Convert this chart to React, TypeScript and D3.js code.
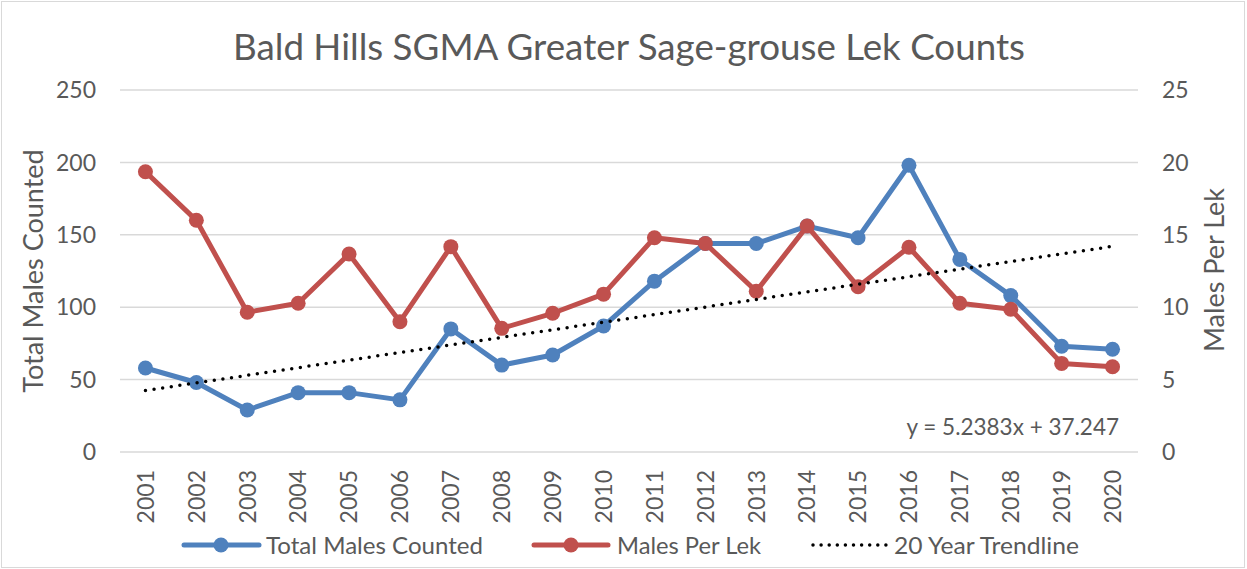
import * as d3 from "d3"

const years = ["2001", "2002", "2003", "2004", "2005", "2006", "2007", "2008", "2009", "2010",
    "2011", "2012", "2013", "2014", "2015", "2016", "2017", "2018", "2019", "2020"]
const totalMales = [58, 48, 29, 41, 41, 36, 85, 60, 67, 87, 118, 144, 144, 156, 148, 198, 133, 108, 73, 71]
const malesPerLek = [19.35, 16.0, 9.65, 10.27, 13.67, 9.0, 14.18, 8.54, 9.58, 10.9, 14.8, 14.4, 11.1, 15.6, 11.42, 14.14, 10.27, 9.86, 6.12, 5.89]
const leftTicks = [0, 50, 100, 150, 200, 250]
const rightTicks = [0, 5, 10, 15, 20, 25]
const trendSlope = 5.2383
const trendIntercept = 37.247

const blue = "#4F81BD"
const red = "#C0504D"
const textColor = "#595959"
const font = "Lato, 'Noto Sans', sans-serif"

export default function App() {
    const width = 1247
    const height = 569
    const marginLeft = 120
    const marginRight = 109
    const marginTop = 90
    const plotBottom = 452

    const xScale = d3.scaleBand(years, [marginLeft, width - marginRight])
    const xc = (y: string) => (xScale(y) ?? 0) + xScale.bandwidth() / 2
    const yLeft = d3.scaleLinear([0, 250], [plotBottom, marginTop])
    const yRight = d3.scaleLinear([0, 25], [plotBottom, marginTop])

    const totalLine = d3.line<number>()
        .x((_, i) => xc(years[i]))
        .y(d => yLeft(d))
    const lekLine = d3.line<number>()
        .x((_, i) => xc(years[i]))
        .y(d => yRight(d))

    const trendStart = trendSlope * 1 + trendIntercept
    const trendEnd = trendSlope * years.length + trendIntercept

    return (
        <svg width={width} height={height} style={{ position: "absolute", top: 0, left: 0 }} fontFamily={font}>
            <rect x={1.5} y={1.5} width={width - 4} height={height - 3} fill="white" stroke="#d9d9d9" />
            <text x={629} y={60} textAnchor="middle" fontSize={37} fill={textColor}
                textLength={792} lengthAdjust="spacingAndGlyphs">
                Bald Hills SGMA Greater Sage-grouse Lek Counts
            </text>

            {leftTicks.map(t => (
                <line key={t} x1={marginLeft} x2={width - marginRight} y1={yLeft(t)} y2={yLeft(t)}
                    stroke="#d9d9d9" strokeWidth={1.5} />
            ))}
            {leftTicks.map(t => (
                <text key={t} x={96} y={yLeft(t)} dy="0.36em" textAnchor="end" fontSize={23} fill={textColor}>{t}</text>
            ))}
            {rightTicks.map(t => (
                <text key={t} x={1162} y={yRight(t)} dy="0.36em" textAnchor="start" fontSize={23} fill={textColor}>{t}</text>
            ))}
            <text transform={`translate(43,271) rotate(-90)`} textAnchor="middle" fontSize={27} fill={textColor}>
                Total Males Counted
            </text>
            <text transform={`translate(1224,270) rotate(-90)`} textAnchor="middle" fontSize={27} fill={textColor}>
                Males Per Lek
            </text>

            {years.map(y => (
                <text key={y} transform={`translate(${xc(y)},470) rotate(-90)`} dy="0.36em" textAnchor="end"
                    fontSize={23} fill={textColor}>{y}</text>
            ))}

            <path d={totalLine(totalMales) ?? ""} fill="none" stroke={blue} strokeWidth={5} strokeLinejoin="round" strokeLinecap="round" />
            {totalMales.map((v, i) => (
                <circle key={i} cx={xc(years[i])} cy={yLeft(v)} r={7.5} fill={blue} />
            ))}
            <path d={lekLine(malesPerLek) ?? ""} fill="none" stroke={red} strokeWidth={5} strokeLinejoin="round" strokeLinecap="round" />
            {malesPerLek.map((v, i) => (
                <circle key={i} cx={xc(years[i])} cy={yRight(v)} r={7.5} fill={red} />
            ))}

            <line x1={xc(years[0])} x2={xc(years[years.length - 1])} y1={yLeft(trendStart)} y2={yLeft(trendEnd)}
                stroke="black" strokeWidth={3.5} strokeDasharray="0 8.7" strokeLinecap="round" />
            <text x={1119} y={435} textAnchor="end" fontSize={22.5} fill={textColor}>y = 5.2383x + 37.247</text>

            <g fontSize={24} fill={textColor}>
                <line x1={184} x2={259} y1={545} y2={545} stroke={blue} strokeWidth={5} strokeLinecap="round" />
                <circle cx={221} cy={545} r={7.5} fill={blue} />
                <text x={266} y={545} dy="0.36em" textLength={217} lengthAdjust="spacingAndGlyphs">Total Males Counted</text>
                <line x1={534} x2={608} y1={545} y2={545} stroke={red} strokeWidth={5} strokeLinecap="round" />
                <circle cx={571} cy={545} r={7.5} fill={red} />
                <text x={617} y={545} dy="0.36em" textLength={144} lengthAdjust="spacingAndGlyphs">Males Per Lek</text>
                <line x1={813} x2={886} y1={545} y2={545} stroke="black" strokeWidth={3.5} strokeDasharray="0 8.1" strokeLinecap="round" />
                <text x={894} y={545} dy="0.36em" textLength={185} lengthAdjust="spacingAndGlyphs">20 Year Trendline</text>
            </g>
        </svg>
    )
}
